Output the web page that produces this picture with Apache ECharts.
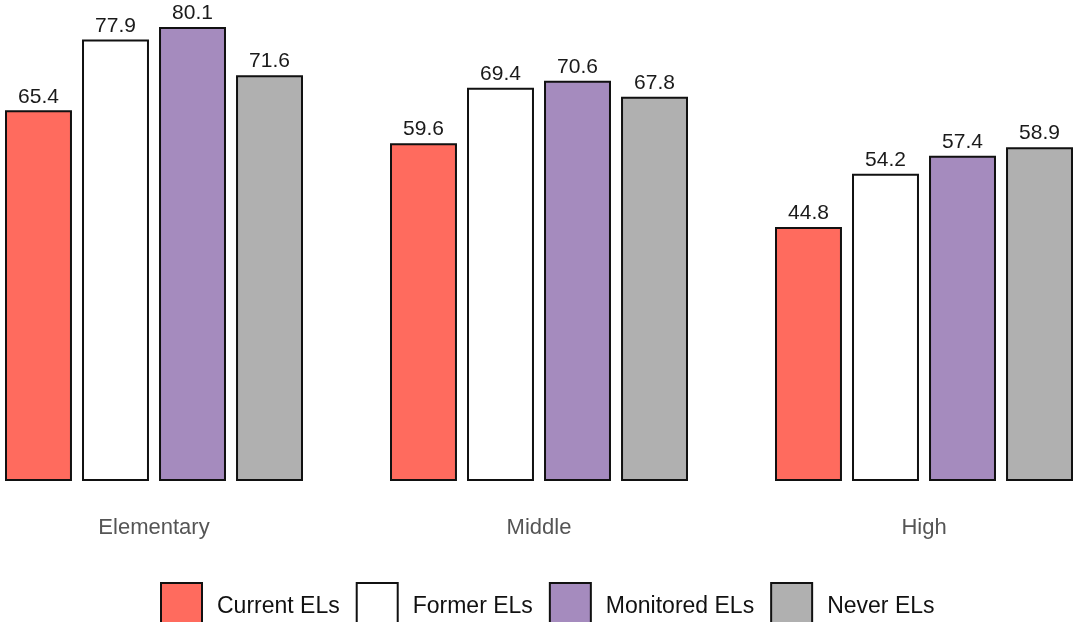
<!DOCTYPE html>
<html>
<head>
<meta charset="utf-8">
<script src="https://cdn.jsdelivr.net/npm/echarts@6/dist/echarts.min.js"></script>
<style>
    html, body { margin: 0; padding: 0; background: #fff; }
    #chart { width: 1076px; height: 622px; }
</style>
</head>
<body>
<div id="chart"></div>
<script>
// school levels
var levels = ['Elementary', 'Middle', 'High'];
var groupNames = ['Current ELs', 'Former ELs', 'Monitored ELs', 'Never ELs'];
var currentEL = [65.4, 59.6, 44.8];
var formerEL = [77.9, 69.4, 54.2];
var monitoredEL = [80.1, 70.6, 57.4];
var neverEL = [71.6, 67.8, 58.9];
var colors = ['#ff6b5e', '#ffffff', '#a58bbe', '#b0b0b0'];

var myChart = echarts.init(document.getElementById('chart'));

function makeSeries(name, data, color) {
    return {
        name: name,
        type: 'bar',
        data: data,
        barGap: '15%',
        barCategoryGap: '22.6%',
        itemStyle: {
            color: color,
            borderColor: '#111',
            borderWidth: 2
        },
        label: {
            show: true,
            position: 'top',
            distance: 3,
            color: '#1a1a1a',
            fontSize: 21,
            fontFamily: 'Liberation Sans, Arial, sans-serif',
            formatter: function (p) { return p.value.toFixed(1); }
        }
    };
}

var option = {
    animation: false,
    grid: {
        left: -38.5,
        width: 1155,
        top: 0,
        height: 481,
        outerBoundsMode: 'none'
    },
    legend: {
        top: 577,
        left: 155,
        itemWidth: 41,
        itemHeight: 48,
        itemGap: 16,
        icon: 'rect',
        data: groupNames,
        textStyle: {
            fontSize: 23,
            color: '#111',
            padding: [0, 0, 0, 10],
            fontFamily: 'Liberation Sans, Arial, sans-serif'
        }
    },
    xAxis: {
        type: 'category',
        data: levels,
        axisLine: { show: false },
        axisTick: { show: false },
        axisLabel: {
            margin: 36,
            fontSize: 22,
            color: '#555',
            fontFamily: 'Liberation Sans, Arial, sans-serif'
        }
    },
    yAxis: {
        type: 'value',
        min: 0,
        max: 84.86,
        show: false,
        splitLine: { show: false }
    },
    series: [
        makeSeries(groupNames[0], currentEL, colors[0]),
        makeSeries(groupNames[1], formerEL, colors[1]),
        makeSeries(groupNames[2], monitoredEL, colors[2]),
        makeSeries(groupNames[3], neverEL, colors[3])
    ]
};
myChart.setOption(option);
</script>
</body>
</html>
